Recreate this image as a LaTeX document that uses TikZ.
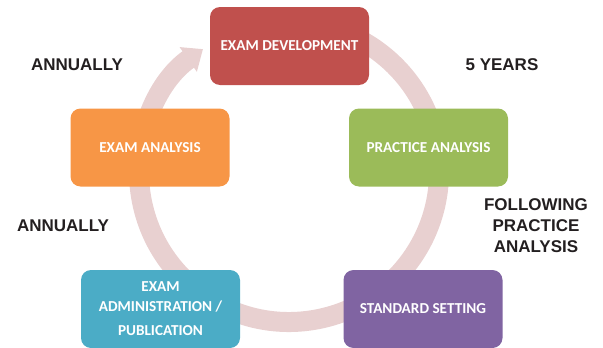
\documentclass[tikz,border=0pt]{standalone}
\usepackage{fontspec}
\setmainfont{Liberation Sans}
\newfontfamily\boxfont{Carlito}
\usetikzlibrary{arrows.meta}
\definecolor{ringc}{RGB}{232,208,208}
\definecolor{cred}{RGB}{192,80,77}
\definecolor{corange}{RGB}{247,150,70}
\definecolor{cgreen}{RGB}{155,187,89}
\definecolor{caqua}{RGB}{75,172,198}
\definecolor{cpurple}{RGB}{128,100,162}
\definecolor{labc}{RGB}{35,31,32}
\tikzset{
  stage/.style={rounded corners=10pt, minimum width=159pt, minimum height=78pt,
    inner sep=0pt, text=white, font=\boxfont\bfseries\fontsize{15.2}{19.5}\selectfont, align=center},
  lab/.style={text=labc, font=\bfseries\fontsize{17}{21}\selectfont, align=center, inner sep=0pt},
  ring/.style={draw=ringc, line width=20pt, -{Triangle[length=18pt,width=29pt]}}
}
\begin{document}
\begin{tikzpicture}[x=1pt,y=-1pt]
\useasboundingbox (0,0) rectangle (603,348);
\coordinate (c) at (289,172);
\draw[ring] ([shift={(100:150pt)}]c) arc[start angle=100, end angle=-235, radius=150pt];
\node[stage, fill=cred] (dev) at (289.5,46) {EXAM DEVELOPMENT};
\node[stage, fill=cgreen] (pa) at (428.5,147.5) {PRACTICE ANALYSIS};
\node[stage, fill=cpurple] (ss) at (423,309) {STANDARD SETTING};
\node[stage, fill=caqua] (adm) at (160.5,309) {EXAM\\ADMINISTRATION /\\[5pt]PUBLICATION};
\node[stage, fill=corange] (ea) at (150,147.5) {EXAM ANALYSIS};
\node[lab] (l1) at (77,65) {ANNUALLY};
\node[lab] (l2) at (502,65) {5 YEARS};
\node[lab] (l3) at (63,226) {ANNUALLY};
\node[lab] (l4) at (536,226) {FOLLOWING\\PRACTICE\\ANALYSIS};
\end{tikzpicture}
\end{document}
